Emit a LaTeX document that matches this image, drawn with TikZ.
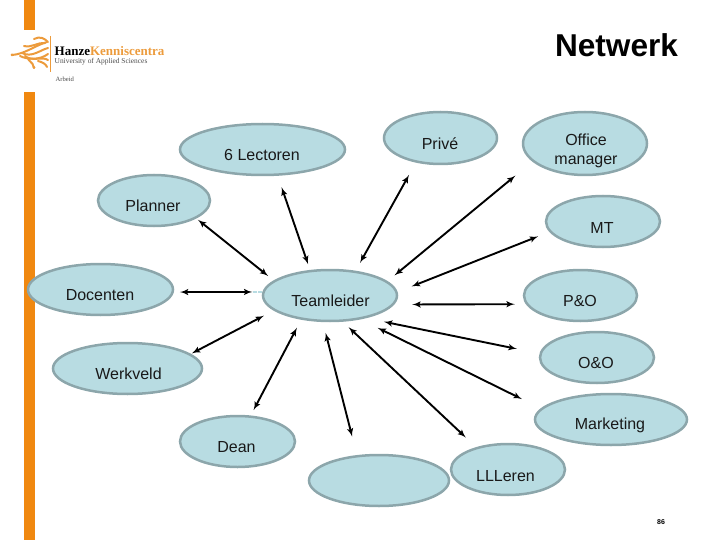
\documentclass[tikz,border=0pt]{standalone}
\usepackage{fontspec}
\setmainfont{Liberation Sans}
\newfontfamily\logofont{Liberation Serif}
\usetikzlibrary{arrows}
\usetikzlibrary{shapes.geometric}
\definecolor{bubblefill}{RGB}{184,220,226}
\definecolor{bubbleline}{RGB}{140,166,171}
\definecolor{hanzeorange}{RGB}{240,136,16}
\definecolor{flame}{RGB}{236,155,60}
\tikzset{
	bubble/.style 2 args={ellipse, draw=bubbleline, fill=bubblefill, line width=2.5pt,
		inner sep=0pt, minimum width=#1, minimum height=#2},
	lbl/.style={inner sep=0pt, align=center, font=\fontsize{16}{19}\selectfont, text=black!90},
	link/.style={draw=black, line width=1.9pt, latex'-latex'},
	strand/.style={draw=flame, line width=2pt, line cap=round},
	logotext/.style={inner sep=0pt, anchor=base west},
}
\begin{document}
\begin{tikzpicture}[x=1pt, y=-1pt]
	\useasboundingbox (0,0) rectangle (720,540);
	% side bar
	\fill[hanzeorange] (24,0) rectangle (34.5,30);
	\fill[hanzeorange] (24,92) rectangle (34.5,540);
	% logo
	\draw[flame, line width=0.7pt] (50.5,36) -- (50.5,72);
	\draw[strand] (12,55) .. controls (25,54) and (34,46) .. (47,42);
	\draw[strand] (24,46) .. controls (32,48) and (38,42) .. (45,43);
	\draw[strand] (34,39) .. controls (40,36) and (44,38) .. (48,42);
	\draw[strand] (22,53) .. controls (32,58) and (40,50) .. (48,48);
	\draw[strand] (20,56) .. controls (28,60) and (40,60) .. (48,54);
	\draw[strand] (25,56) .. controls (32,62) and (42,56) .. (48,60);
	\draw[strand] (28,59) .. controls (32,64) and (34,64) .. (34,68);
	\draw[strand] (38,61) .. controls (42,62) and (46,64) .. (47,67);
	\fill[flame] (12,55) circle (1.5);
	\fill[flame] (34,67.5) circle (1.5);
	\node[logotext, font=\logofont\bfseries\fontsize{13}{15}\selectfont] (hanze) at (54.5,55.5)
		{Hanze\textcolor{flame}{Kenniscentra}};
	\node[logotext, font=\logofont\fontsize{7.4}{9}\selectfont, text=black!70] (univ) at (54.5,63.5)
		{University of Applied Sciences};
	\node[logotext, font=\logofont\fontsize{6.6}{8}\selectfont, text=black!70] (arbeid) at (55.5,81.5)
		{Arbeid};
	% title
	\node[inner sep=0pt, font=\bfseries\fontsize{31.6}{36}\selectfont] (title) at (616.5,45) {Netwerk};
	\node[inner sep=0pt, font=\bfseries\fontsize{7}{8}\selectfont] (page) at (661,522.5) {86};
	% bubbles
	\node[bubble={165pt}{51pt}] (lectoren) at (262.5,149.5) {};
	\node[bubble={113pt}{52pt}] (prive) at (440.5,138) {};
	\node[bubble={124pt}{63pt}] (office) at (585,143.5) {};
	\node[bubble={112pt}{51pt}] (planner) at (154,200.5) {};
	\node[bubble={114pt}{51pt}] (mt) at (603,221.5) {};
	\node[bubble={145pt}{51pt}] (docenten) at (100.5,289.5) {};
	\node[bubble={134pt}{51pt}] (team) at (330,295.5) {};
	\node[bubble={113pt}{51pt}] (po) at (580.5,295.5) {};
	\node[bubble={114pt}{51pt}] (oo) at (597,357.5) {};
	\node[bubble={149pt}{51pt}] (werkveld) at (127.5,368.5) {};
	\node[bubble={152pt}{51pt}] (marketing) at (611,419.5) {};
	\node[bubble={115pt}{51pt}] (dean) at (237.5,441.5) {};
	\node[bubble={140pt}{51pt}] (blank) at (379,480.5) {};
	\node[bubble={114pt}{51pt}] (lll) at (508,469.5) {};
	% bubble texts
	\node[lbl] (lectorentxt) at (262,155) {6 Lectoren};
	\node[lbl] (privetxt) at (440,144) {Priv\'e};
	\node[lbl] (officetxt) at (586,151) {Office\\manager};
	\node[lbl] (plannertxt) at (153,206) {Planner};
	\node[lbl] (mttxt) at (602,228) {MT};
	\node[lbl] (docententxt) at (100,295) {Docenten};
	\node[lbl] (teamtxt) at (330.5,301) {Teamleider};
	\node[lbl] (potxt) at (580,301) {P\&O};
	\node[lbl] (ootxt) at (596,363) {O\&O};
	\node[lbl] (werkveldtxt) at (128.5,374) {Werkveld};
	\node[lbl] (marketingtxt) at (610,425) {Marketing};
	\node[lbl] (deantxt) at (236.5,447) {Dean};
	\node[lbl] (llltxt) at (505.5,476) {LLLeren};
	% connectors
	\draw[link, shorten <=2pt, shorten >=7pt] (planner.-23) -- (team.165);
	\draw[link, shorten <=12pt, shorten >=6pt] (lectoren.-60) -- (team.128);
	\draw[link, shorten <=14pt, shorten >=9pt] (prive.-135) -- (team.44);
	\draw[link, shorten <=22pt, shorten >=9pt] (office.-161) -- (team.14);
	\draw[link, shorten <=12pt, shorten >=15pt] (mt.-169) -- (team.3);
	\draw[link, shorten <=11pt, shorten >=18pt] (po.-171) -- (team.-8);
	\draw[link, shorten <=23pt, shorten >=18pt] (oo.176) -- (team.-32);
	\draw[link, shorten <=21pt, shorten >=19pt] (marketing.171) -- (team.-38);
	\draw[link, shorten <=14pt, shorten >=8pt] (lll.145) -- (team.-64);
	\draw[link, shorten <=19pt, shorten >=11pt] (blank.131) -- (team.-105);
	\draw[link, shorten <=6pt, shorten >=9pt] (dean.63) -- (team.-140);
	\draw[link, shorten <=1pt, shorten >=11pt] (werkveld.13) -- (team.-165);
	\draw[link, shorten <=6pt, shorten >=10pt] (docenten.-2) -- (team.177);
	\draw[bubblefill, line width=2.5pt, dash pattern=on 4pt off 1pt] (team.177) -- ++(-9,0);
\end{tikzpicture}
\end{document}
